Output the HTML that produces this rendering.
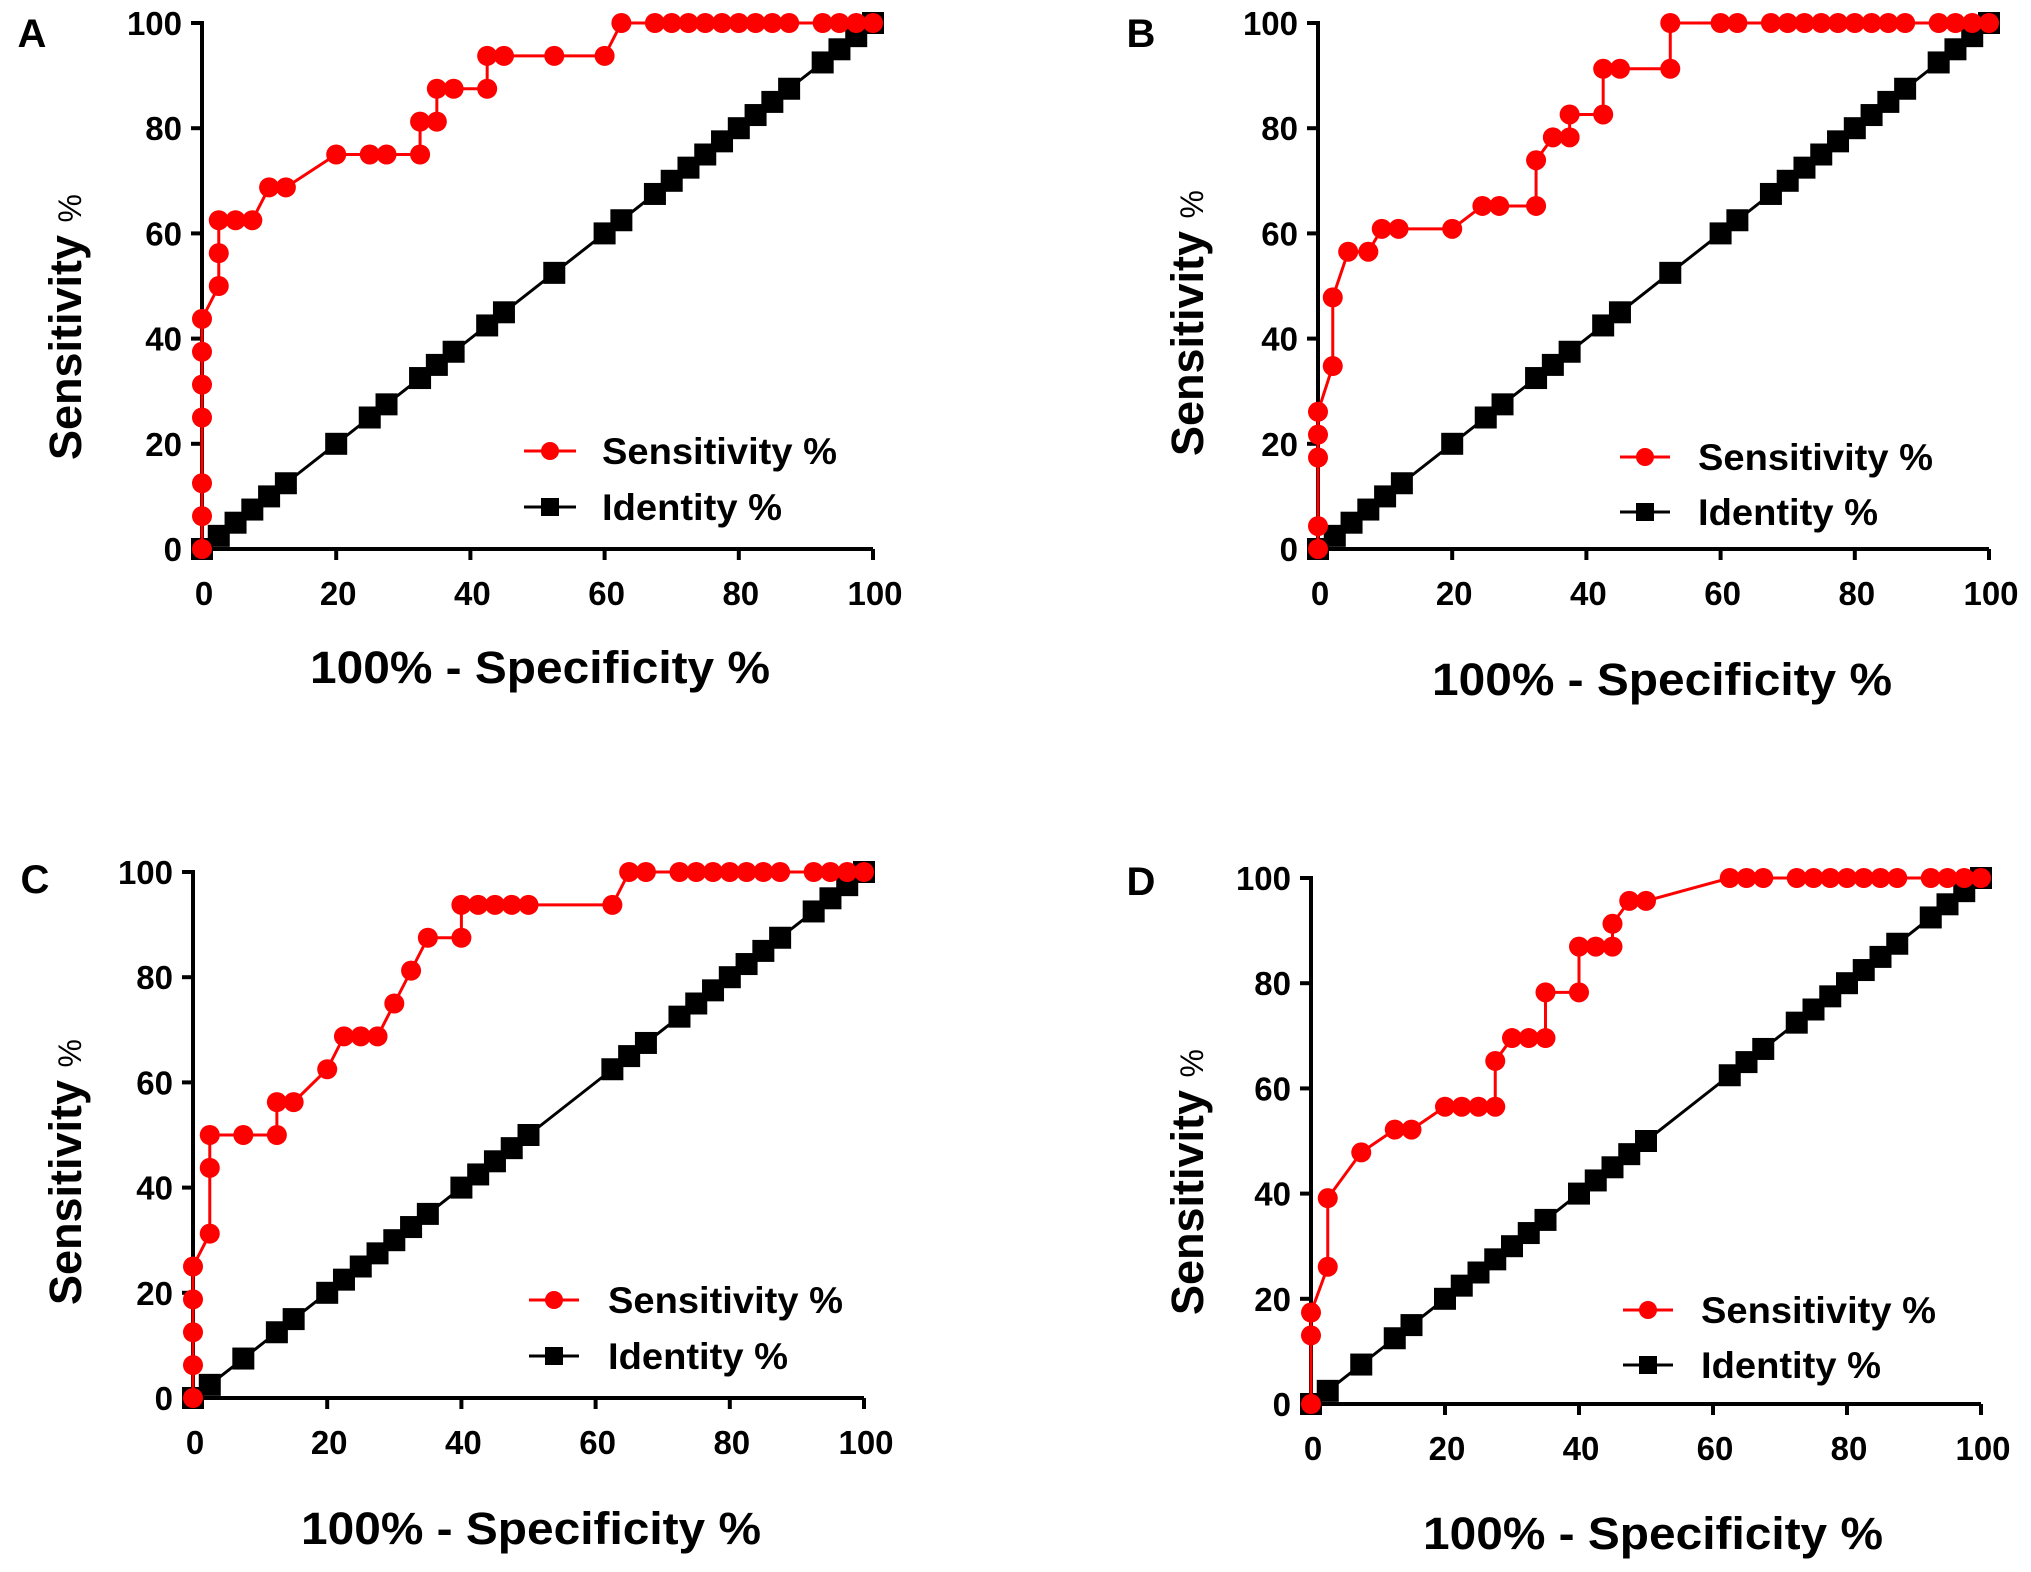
<!DOCTYPE html>
<html><head><meta charset="utf-8"><style>
html,body{margin:0;padding:0;background:#fff;}
svg{display:block;font-family:"Liberation Sans",sans-serif;font-weight:bold;}
</style></head><body>
<svg id="fig" width="2031" height="1572" viewBox="0 0 2031 1572" xmlns="http://www.w3.org/2000/svg"></svg>
<script>
// ---- data ----
const ticks = [0, 20, 40, 60, 80, 100];
const tickLabels = ["0", "20", "40", "60", "80", "100"];
const panelLabels = ["A", "B", "C", "D"];

const sensAX = [0,0,0,0,0,0,0,2.5,2.5,2.5,5,7.5,10,12.5,20,25,27.5,32.5,32.5,35,35,37.5,42.5,42.5,45,52.5,60,62.5,67.5,70,72.5,75,77.5,80,82.5,85,87.5,92.5,95,97.5,100];
const sensAY = [0,6.25,12.5,25,31.25,37.5,43.75,50,56.25,62.5,62.5,62.5,68.75,68.75,75,75,75,75,81.25,81.25,87.5,87.5,87.5,93.75,93.75,93.75,93.75,100,100,100,100,100,100,100,100,100,100,100,100,100,100];
const idAX = [0,2.5,5,7.5,10,12.5,20,25,27.5,32.5,35,37.5,42.5,45,52.5,60,62.5,67.5,70,72.5,75,77.5,80,82.5,85,87.5,92.5,95,97.5,100];

const sensBX = [0,0,0,0,0,2.2,2.2,4.5,7.5,9.5,12,20,24.5,27,32.5,32.5,35,37.5,37.5,42.5,42.5,45,52.5,52.5,60,62.5,67.5,70,72.5,75,77.5,80,82.5,85,87.5,92.5,95,97.5,100];
const sensBY = [0,4.35,17.39,21.74,26.09,34.78,47.83,56.52,56.52,60.87,60.87,60.87,65.22,65.22,65.22,73.91,78.26,78.26,82.61,82.61,91.3,91.3,91.3,100,100,100,100,100,100,100,100,100,100,100,100,100,100,100,100];
const idBX = [0,2.5,5,7.5,10,12.5,20,25,27.5,32.5,35,37.5,42.5,45,52.5,60,62.5,67.5,70,72.5,75,77.5,80,82.5,85,87.5,92.5,95,97.5,100];

const sensCX = [0,0,0,0,0,2.5,2.5,2.5,7.5,12.5,12.5,15,20,22.5,25,27.5,30,32.5,35,40,40,42.5,45,47.5,50,62.5,65,67.5,72.5,75,77.5,80,82.5,85,87.5,92.5,95,97.5,100];
const sensCY = [0,6.25,12.5,18.75,25,31.25,43.75,50,50,50,56.25,56.25,62.5,68.75,68.75,68.75,75,81.25,87.5,87.5,93.75,93.75,93.75,93.75,93.75,93.75,100,100,100,100,100,100,100,100,100,100,100,100,100];
const idCX = [0,2.5,7.5,12.5,15,20,22.5,25,27.5,30,32.5,35,40,42.5,45,47.5,50,62.5,65,67.5,72.5,75,77.5,80,82.5,85,87.5,92.5,95,97.5,100];

const sensDX = [0,0,0,2.5,2.5,7.5,12.5,15,20,22.5,25,27.5,27.5,30,32.5,35,35,40,40,42.5,45,45,47.5,50,62.5,65,67.5,72.5,75,77.5,80,82.5,85,87.5,92.5,95,97.5,100];
const sensDY = [0,13.04,17.39,26.09,39.13,47.83,52.17,52.17,56.52,56.52,56.52,56.52,65.22,69.57,69.57,69.57,78.26,78.26,86.96,86.96,86.96,91.3,95.65,95.65,100,100,100,100,100,100,100,100,100,100,100,100,100,100];
const idDX = [0,2.5,7.5,12.5,15,20,22.5,25,27.5,30,32.5,35,40,42.5,45,47.5,50,62.5,65,67.5,72.5,75,77.5,80,82.5,85,87.5,92.5,95,97.5,100];

// ---- layout ----
const panels = [
 {x0:202,x1:873,y0:549,y1:23, sx:sensAX, sy:sensAY, ix:idAX, lab:[32,33], leg:[322,374,400,-98,-42], xt:[338,118], yt:[-137,327]},
 {x0:1318,x1:1989,y0:549,y1:23, sx:sensBX, sy:sensBY, ix:idBX, lab:[1141,33], leg:[302,352,380,-92,-37], xt:[344,130], yt:[-131,323]},
 {x0:193,x1:864,y0:1398,y1:872, sx:sensCX, sy:sensCY, ix:idCX, lab:[35,879], leg:[336,386,415,-98,-42], xt:[338,130], yt:[-128,1172]},
 {x0:1311,x1:1981,y0:1404,y1:878, sx:sensDX, sy:sensDY, ix:idDX, lab:[1141,881], leg:[312,362,390,-94,-39], xt:[342,129], yt:[-124,1182]}
];
const NS = "http://www.w3.org/2000/svg";
const svg = document.getElementById("fig");
function mk(tag, attrs, parent){ const e=document.createElementNS(NS,tag); for(const k in attrs) e.setAttribute(k,attrs[k]); parent.appendChild(e); return e; }

panels.forEach((p, pi) => {
  const g = mk("g", {}, svg);
  
  
  const X = v => p.x0 + (p.x1 - p.x0) * v / 100;
  const Y = v => p.y0 + (p.y1 - p.y0) * v / 100;

  const pl = mk("text", {x:p.lab[0], y:p.lab[1]+14, "font-size":40, "text-anchor":"middle"}, g);
  pl.textContent = panelLabels[pi];
  
  

  const ax = mk("path", {d:`M${p.x0},${p.y1-2} L${p.x0},${p.y0} L${p.x1},${p.y0}`, stroke:"#000", "stroke-width":4, fill:"none"}, g);
  
  
  ticks.forEach((t, i) => {
    const xt = mk("line", {x1:X(t), x2:X(t), y1:p.y0, y2:p.y0+11, stroke:"#000", "stroke-width":4}, g);
    
    
    const xl = mk("text", {x:X(t)+2, y:p.y0+56, "font-size":33, "text-anchor":"middle"}, g);
    xl.textContent = tickLabels[i];
    
    
    const yt = mk("line", {x1:p.x0-11, x2:p.x0, y1:Y(t), y2:Y(t), stroke:"#000", "stroke-width":4}, g);
    
    
    const yl = mk("text", {x:p.x0-20, y:Y(t)+12, "font-size":33, "text-anchor":"end"}, g);
    yl.textContent = tickLabels[i];
    
    
  });

  const xtTitle = mk("text", {x:p.x0+p.xt[0], y:p.y0+p.xt[1]+16, "font-size":45, "text-anchor":"middle", textLength:460, lengthAdjust:"spacingAndGlyphs"}, g);
  xtTitle.textContent = "100% - Specificity %";
  
  
  const cx = p.x0+p.yt[0], cy = p.yt[1];
  const ytTitle = mk("text", {x:cx, y:cy, "font-size":45, "text-anchor":"middle", transform:`rotate(-90 ${cx} ${cy}) translate(0 16)`}, g);
  ytTitle.innerHTML = 'Sensitivity <tspan font-size="32" font-weight="normal">%</tspan>';
  
  

  const idPts = p.ix.map(v => X(v)+","+Y(v)).join(" ");
  const il = mk("polyline", {points:idPts, stroke:"#000", "stroke-width":3, fill:"none"}, g);
  
  
  p.ix.forEach(v => {
    const r = mk("rect", {x:X(v)-11, y:Y(v)-11, width:22, height:22, fill:"#000"}, g);
    
    
  });

  const sPts = p.sx.map((v,i) => X(v)+","+Y(p.sy[i])).join(" ");
  const sl = mk("polyline", {points:sPts, stroke:"#f00", "stroke-width":3, fill:"none"}, g);
  
  
  p.sx.forEach((v,i) => {
    const c = mk("circle", {cx:X(v), cy:Y(p.sy[i]), r:10, fill:"#f00"}, g);
    
    
  });

  const L = p.leg;
  const lx1 = p.x0+L[0], lx2 = p.x0+L[1], tx = p.x0+L[2];
  const r1 = p.y0+L[3], r2 = p.y0+L[4];
  const lg = mk("g", {}, g);
  
  
  mk("line", {x1:lx1, x2:lx2, y1:r1, y2:r1, stroke:"#f00", "stroke-width":3}, lg);
  mk("circle", {cx:(lx1+lx2)/2, cy:r1, r:9, fill:"#f00"}, lg);
  const t1 = mk("text", {x:tx, y:r1+13, "font-size":37, textLength:235, lengthAdjust:"spacingAndGlyphs"}, lg);
  t1.textContent = "Sensitivity %";
  
  
  mk("line", {x1:lx1, x2:lx2, y1:r2, y2:r2, stroke:"#000", "stroke-width":3}, lg);
  mk("rect", {x:(lx1+lx2)/2-9, y:r2-9, width:18, height:18, fill:"#000"}, lg);
  const t2 = mk("text", {x:tx, y:r2+13, "font-size":37, textLength:180, lengthAdjust:"spacingAndGlyphs"}, lg);
  t2.textContent = "Identity %";
  
  
});
</script>
</body></html>
